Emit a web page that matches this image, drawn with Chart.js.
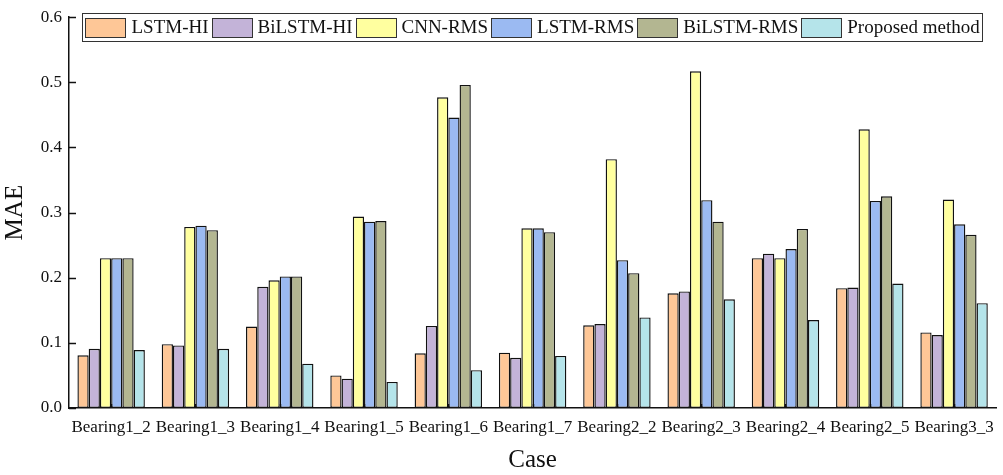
<!DOCTYPE html>
<html>
<head>
<meta charset="utf-8">
<script src="https://cdn.jsdelivr.net/npm/chart.js@4/dist/chart.umd.min.js"></script>
<style>
  html, body { margin: 0; padding: 0; background: #fff; }
  #wrap { width: 1003px; height: 475px; position: relative; }
</style>
</head>
<body>
<div id="wrap"><canvas id="chart"></canvas></div>
<script>
const cases = ['Bearing1_2', 'Bearing1_3', 'Bearing1_4', 'Bearing1_5', 'Bearing1_6', 'Bearing1_7',
  'Bearing2_2', 'Bearing2_3', 'Bearing2_4', 'Bearing2_5', 'Bearing3_3'];

const lstmHI     = [0.081, 0.098, 0.125, 0.050, 0.084, 0.085, 0.127, 0.176, 0.230, 0.184, 0.116];
const bilstmHI   = [0.091, 0.096, 0.186, 0.045, 0.126, 0.077, 0.129, 0.179, 0.237, 0.185, 0.112];
const cnnRMS     = [0.230, 0.278, 0.196, 0.294, 0.477, 0.276, 0.382, 0.517, 0.230, 0.428, 0.320];
const lstmRMS    = [0.230, 0.280, 0.202, 0.286, 0.446, 0.276, 0.227, 0.319, 0.244, 0.318, 0.282];
const bilstmRMS  = [0.230, 0.273, 0.202, 0.287, 0.496, 0.270, 0.207, 0.286, 0.275, 0.325, 0.266];
const proposed   = [0.089, 0.091, 0.068, 0.040, 0.058, 0.080, 0.139, 0.167, 0.135, 0.191, 0.161];

const yTicks = [0, 0.1, 0.2, 0.3, 0.4, 0.5, 0.6];

const FONT = '"Liberation Serif", "Times New Roman", serif';

function ds(label, data, color) {
  return {
    label, data,
    backgroundColor: color,
    borderColor: '#111',
    borderWidth: 1.4,
    borderSkipped: false,
    categoryPercentage: 0.8,
    barPercentage: 1.0
  };
}

// inward ticks on both axes
const innerTicks = {
  id: 'innerTicks',
  afterDraw(chart) {
    const { ctx, chartArea, scales } = chart;
    ctx.save();
    ctx.strokeStyle = '#111';
    ctx.lineWidth = 1.5;
    scales.y.ticks.forEach((t, i) => {
      const y = Math.round(scales.y.getPixelForTick(i)) + 0.5;
      ctx.beginPath();
      ctx.moveTo(chartArea.left, y);
      ctx.lineTo(chartArea.left + 7, y);
      ctx.stroke();
    });
    scales.x.ticks.forEach((t, i) => {
      const x = Math.round(scales.x.getPixelForTick(i)) + 0.5;
      ctx.beginPath();
      ctx.moveTo(x, chartArea.bottom);
      ctx.lineTo(x, chartArea.bottom - 4);
      ctx.stroke();
    });
    ctx.restore();
  }
};

// one-row boxed legend sitting inside the plot, across the top
const boxLegend = {
  id: 'boxLegend',
  afterDraw(chart) {
    const { ctx, chartArea } = chart;
    const sw = 40, sh = 19, gapText = 6, gapItem = 3;
    ctx.save();
    ctx.font = '19px ' + FONT;
    const items = chart.data.datasets.map(d => ({
      label: d.label, color: d.backgroundColor, w: ctx.measureText(d.label).width
    }));
    const inner = items.reduce((s, it) => s + sw + gapText + it.w, 0) + gapItem * (items.length - 1);
    const padL = 3, padR = 3;
    const total = inner + padL + padR;
    const left = (chartArea.left + chartArea.right) / 2 - total / 2;
    const top = 13, height = 28;
    ctx.strokeStyle = '#333';
    ctx.lineWidth = 1;
    ctx.fillStyle = '#fff';
    ctx.fillRect(left, top, total, height);
    ctx.strokeRect(Math.round(left) + 0.5, top + 0.5, Math.round(total), height);
    let x = left + padL;
    const cy = top + height / 2;
    items.forEach(it => {
      ctx.fillStyle = it.color;
      ctx.fillRect(Math.round(x) + 0.5, Math.round(cy - sh / 2) + 0.5, sw, sh);
      ctx.strokeStyle = '#333';
      ctx.strokeRect(Math.round(x) + 0.5, Math.round(cy - sh / 2) + 0.5, sw, sh);
      x += sw + gapText;
      ctx.fillStyle = '#111';
      ctx.textBaseline = 'middle';
      ctx.fillText(it.label, x, cy + 1);
      x += it.w + gapItem;
    });
    ctx.restore();
  }
};

const chart = new Chart(document.getElementById('chart'), {
  type: 'bar',
  data: {
    labels: cases,
    datasets: [
      ds('LSTM-HI', lstmHI, '#fec797'),
      ds('BiLSTM-HI', bilstmHI, '#c3b3d8'),
      ds('CNN-RMS', cnnRMS, '#ffff9f'),
      ds('LSTM-RMS', lstmRMS, '#9bbaf2'),
      ds('BiLSTM-RMS', bilstmRMS, '#b3b691'),
      ds('Proposed method', proposed, '#b5e4ea')
    ]
  },
  options: {
    responsive: true,
    maintainAspectRatio: false,
    animation: false,
    layout: { padding: { top: 14, right: 6, left: 0, bottom: 0 } },
    plugins: {
      tooltip: { enabled: false },
      legend: { display: false }
    },
    scales: {
      x: {
        grid: { display: false, drawTicks: false },
        border: { display: true, color: '#111', width: 1.5 },
        ticks: {
          font: { family: FONT, size: 17 }, color: '#111',
          padding: 9, maxRotation: 0, autoSkip: false
        },
        title: {
          display: true, text: 'Case',
          font: { family: FONT, size: 25 }, color: '#111',
          padding: { top: 2, bottom: 0 }
        },
        afterFit(s) { s.height = 67; }
      },
      y: {
        min: 0, max: 0.6,
        afterBuildTicks(s) { s.ticks = yTicks.map(v => ({ value: v })); },
        grid: { display: false, drawTicks: false },
        border: { display: true, color: '#111', width: 1.5 },
        ticks: {
          font: { family: FONT, size: 17 }, color: '#111',
          padding: 7,
          callback: v => Number(v).toFixed(1)
        },
        title: {
          display: true, text: 'MAE',
          font: { family: FONT, size: 25 }, color: '#111',
          padding: { top: 0, bottom: 4 }
        },
        afterFit(s) { s.width = 69; }
      }
    }
  },
  plugins: [innerTicks, boxLegend]
});
</script>
</body>
</html>
